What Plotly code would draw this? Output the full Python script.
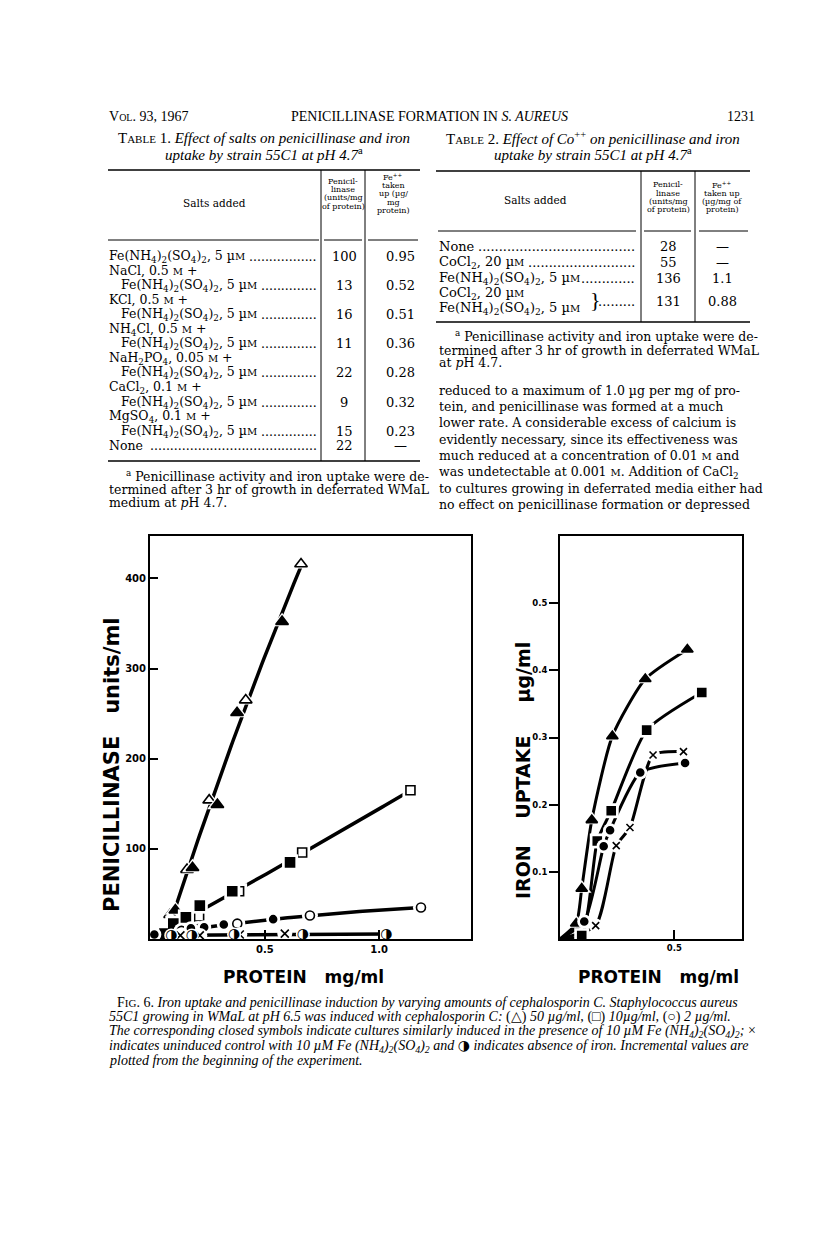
import numpy as np
import plotly.graph_objects as go

W, H = 816, 1247
SERIF = "DejaVu Serif"
TIMES = "Liberation Serif"
SANS = "DejaVu Sans"

# ---------------- Fig. 6, left panel: penicillinase (units/ml) vs protein (mg/ml)
tri_open_x = [0.085, 0.159, 0.256, 0.416, 0.658]
tri_open_y = [27, 77, 154, 265, 416]
tri_closed_x = [0.108, 0.183, 0.292, 0.378, 0.575]
tri_closed_y = [32, 79, 149, 251, 352]
sq_open_x = [0.135, 0.212, 0.387, 0.663, 1.137]
sq_open_y = [17, 25, 53, 96, 165]
sq_closed_x = [0.060, 0.099, 0.154, 0.215, 0.357, 0.610]
sq_closed_y = [6, 17, 24, 37, 53, 85]
ci_open_x = [0.135, 0.208, 0.379, 0.697, 1.183]
ci_open_y = [9, 11, 17, 26, 35]
ci_closed_x = [0.016, 0.176, 0.234, 0.320, 0.536]
ci_closed_y = [5, 12, 13, 16, 22]
ctrl_x = [0.130, 0.215, 0.390, 0.587]
ctrl_y = [4, 4, 5, 6]
nofe_x = [0.090, 0.180, 0.365, 0.666, 1.032]
nofe_y = [4, 4, 5, 5, 5]

# ---------------- Fig. 6, right panel: iron uptake (ug/ml) vs protein (mg/ml)
r_tri_x = [0.071, 0.095, 0.139, 0.229, 0.373, 0.557]
r_tri_y = [0.023, 0.075, 0.177, 0.302, 0.387, 0.431]
r_sq_x = [0.095, 0.163, 0.224, 0.379, 0.620]
r_sq_y = [0.005, 0.146, 0.191, 0.311, 0.367]
r_ci_x = [0.106, 0.191, 0.219, 0.351, 0.547]
r_ci_y = [0.026, 0.138, 0.162, 0.248, 0.262]
r_x_x = [0.156, 0.246, 0.306, 0.407, 0.540]
r_x_y = [0.020, 0.139, 0.166, 0.274, 0.279]

left_yticks = [100, 200, 300, 400]
left_xticks = [0.5, 1.0]
right_yticks = [0.1, 0.2, 0.3, 0.4, 0.5]
right_xticks = [0.5]

# ---------------- Table 1
SM = "<span style='font-size:10px'>M</span>"
FE = "Fe(NH<sub>4</sub>)<sub>2</sub>(SO<sub>4</sub>)<sub>2</sub>, 5 µ" + SM
t1_salt_first = ["", "NaCl, 0.5 " + SM + " +", "KCl, 0.5 " + SM + " +",
                 "NH<sub>4</sub>Cl, 0.5 " + SM + " +", "NaH<sub>2</sub>PO<sub>4</sub>, 0.05 " + SM + " +",
                 "CaCl<sub>2</sub>, 0.1 " + SM + " +", "MgSO<sub>4</sub>, 0.1 " + SM + " +", ""]
t1_salt_last = [FE, FE, FE, FE, FE, FE, FE, "None"]
t1_pen = [100, 13, 16, 11, 22, 9, 15, 22]
t1_fe = ["0.95", "0.52", "0.51", "0.36", "0.28", "0.32", "0.23", "—"]

# ---------------- Table 2
CO = "CoCl<sub>2</sub>, 20 µ" + SM
t2_salts = ["None", CO, FE]
t2_pen = [28, 55, 136]
t2_fe = ["—", "—", "1.1"]
t2_combo_pen = 131
t2_combo_fe = "0.88"

paragraph = [
    "reduced to a maximum of 1.0 µg per mg of pro-",
    "tein, and penicillinase was formed at a much",
    "lower rate. A considerable excess of calcium is",
    "evidently necessary, since its effectiveness was",
    "much reduced at a concentration of 0.01 " + SM + " and",
    "was undetectable at 0.001 " + SM + ". Addition of CaCl<sub>2</sub>",
    "to cultures growing in deferrated media either had",
    "no effect on penicillinase formation or depressed",
]

FEi = "Fe (NH<sub>4</sub>)<sub>2</sub>(SO<sub>4</sub>)<sub>2</sub>"
HALF = "<span style='font-family:DejaVu Sans'>◑</span>"
caption = [
    "F<span style='font-size:11px'>IG</span>. 6. <i>Iron uptake and penicillinase induction by varying amounts of cephalosporin C. Staphylococcus aureus</i>",
    "<i>55C1 growing in WMaL at pH 6.5 was induced with cephalosporin C: </i>(△) <i>50 µg/ml, </i>(□) <i>10µg/ml, </i>(○) <i>2 µg/ml.</i>",
    "<i>The corresponding closed symbols indicate cultures similarly induced in the presence of 10 µM " + FEi + "; </i>×",
    "<i>indicates uninduced control with 10 µM " + FEi + " and </i>" + HALF + "<i> indicates absence of iron. Incremental values are</i>",
    "<i>plotted from the beginning of the experiment.</i>",
]


def P(px, py):
    return px / W, 1 - py / H


annotations = []
shapes = []


def txt(px, py, s, size=13, family=SERIF, xa="left", angle=0):
    x, y = P(px, py)
    annotations.append(dict(x=x, y=y, xref="paper", yref="paper", text=s, showarrow=False,
                            xanchor=xa, yanchor="middle", textangle=angle, borderpad=0,
                            font=dict(family=family, size=size, color="black")))


def hline(x0, x1, y, w=1.0):
    a0, b0 = P(x0, y)
    a1, _ = P(x1, y)
    shapes.append(dict(type="line", xref="paper", yref="paper", x0=a0, x1=a1, y0=b0, y1=b0,
                       line=dict(color="black", width=w)))


def vline(x, y0, y1, w=1.0):
    a0, b0 = P(x, y0)
    _, b1 = P(x, y1)
    shapes.append(dict(type="line", xref="paper", yref="paper", x0=a0, x1=a0, y0=b0, y1=b1,
                       line=dict(color="black", width=w)))


fig = go.Figure()


def fit_line(xs_list, ys_list, deg, x0, n=80):
    xa = np.concatenate([np.asarray(v, float) for v in xs_list])
    ya = np.concatenate([np.asarray(v, float) for v in ys_list])
    c = np.polyfit(xa, ya, deg)
    xs = np.linspace(x0, xa.max(), n)
    return xs, np.clip(np.polyval(c, xs), 0, None)


def add_line(x, y, xa, ya, w, shape="linear", smooth=1.0):
    fig.add_trace(go.Scatter(x=x, y=y, xaxis=xa, yaxis=ya, mode="lines", cliponaxis=False,
                             line=dict(color="black", width=w, shape=shape, smoothing=smooth),
                             hoverinfo="skip"))


def add_marks(x, y, xa, ya, symbol, size, fill):
    # white halo gives the broken-line look around each symbol
    fig.add_trace(go.Scatter(x=x, y=y, xaxis=xa, yaxis=ya, mode="markers", cliponaxis=False,
                             marker=dict(symbol=symbol if "x" not in symbol else "circle",
                                         size=size + 7, color="white", line=dict(width=0)),
                             hoverinfo="skip"))
    if symbol.startswith("x"):
        m = dict(symbol="x-thin", size=size, line=dict(color="black", width=1.6))
    else:
        m = dict(symbol=symbol, size=size, color=fill, line=dict(color="black", width=1.6))
    fig.add_trace(go.Scatter(x=x, y=y, xaxis=xa, yaxis=ya, mode="markers", cliponaxis=False,
                             marker=m))


# ---- left panel lines
lx, ly = fit_line([tri_open_x, tri_closed_x], [tri_open_y, tri_closed_y], 2, 0.02)
add_line(lx, ly, "x", "y", 3.5)
lx, ly = fit_line([sq_open_x, sq_closed_x], [sq_open_y, sq_closed_y], 2, 0.03)
add_line(lx, ly, "x", "y", 3.5)
lx, ly = fit_line([ci_open_x, ci_closed_x], [ci_open_y, ci_closed_y], 2, 0.0)
add_line(lx, ly, "x", "y", 3.5)
lx, ly = fit_line([ctrl_x, nofe_x], [ctrl_y, nofe_y], 1, 0.12)
add_line(lx, ly, "x", "y", 3.5)

# ---- left panel markers
add_marks(tri_open_x, tri_open_y, "x", "y", "triangle-up", 11, "white")
add_marks(tri_closed_x, tri_closed_y, "x", "y", "triangle-up", 11, "black")
add_marks(sq_open_x, sq_open_y, "x", "y", "square", 9, "white")
add_marks(sq_closed_x, sq_closed_y, "x", "y", "square", 9, "black")
add_marks(ci_open_x, ci_open_y, "x", "y", "circle", 9, "white")
add_marks(ci_closed_x, ci_closed_y, "x", "y", "circle", 7, "black")
add_marks(ctrl_x, ctrl_y, "x", "y", "x", 8, "black")
fig.add_trace(go.Scatter(x=nofe_x, y=nofe_y, xaxis="x", yaxis="y", mode="markers",
                         marker=dict(symbol="circle", size=14, color="white"), cliponaxis=False,
                         hoverinfo="skip"))
fig.add_trace(go.Scatter(x=nofe_x, y=nofe_y, xaxis="x", yaxis="y", mode="text", text=["◑"] * len(nofe_x),
                         textposition="middle center", cliponaxis=False,
                         textfont=dict(family=SANS, size=14, color="black")))

# ---- right panel lines (from the origin)
for xs, ys in [(r_tri_x, r_tri_y), (r_sq_x, r_sq_y), (r_ci_x, r_ci_y), (r_x_x, r_x_y)]:
    add_line([0] + xs, [0] + ys, "x2", "y2", 3, shape="spline", smooth=0.6)
add_marks(r_tri_x, r_tri_y, "x2", "y2", "triangle-up", 10, "black")
add_marks(r_sq_x, r_sq_y, "x2", "y2", "square", 8, "black")
add_marks(r_ci_x, r_ci_y, "x2", "y2", "circle", 7, "black")
add_marks(r_x_x, r_x_y, "x2", "y2", "x", 7, "black")

# ---- axes
top, bot = 528, 931
ydom = [1 - bot / H, 1 - top / H]
ax_common = dict(showline=True, linewidth=2, linecolor="black", mirror=True, showgrid=False,
                 zeroline=False, tickcolor="black", tickwidth=2)
fig.update_layout(
    xaxis=dict(domain=[142 / W, 463 / W], range=[-0.003, 1.402], tickvals=left_xticks,
               ticktext=["0.5", "1.0"], ticks="inside", ticklen=9, anchor="y",
               tickfont=dict(family=SANS, size=10, color="black", weight="bold"), **ax_common),
    yaxis=dict(domain=ydom, range=[0, 447], tickvals=left_yticks, ticks="inside", ticklen=8,
               anchor="x", tickfont=dict(family=SANS, size=10, color="black", weight="bold"),
               **ax_common),
    xaxis2=dict(domain=[552 / W, 734 / W], range=[0, 0.796], tickvals=right_xticks,
                ticktext=["0.5"], ticks="inside", ticklen=9, anchor="y2",
                tickfont=dict(family=SANS, size=8.5, color="black", weight="bold"), **ax_common),
    yaxis2=dict(domain=ydom, range=[0, 0.600], tickvals=right_yticks,
                ticktext=["0.1", "0.2", "0.3", "0.4", "0.5"], ticks="outside", ticklen=9,
                anchor="x2", tickfont=dict(family=SANS, size=8.5, color="black", weight="bold"),
                **ax_common),
)

NB = "\u00a0"
txt(104, 757, "<b>PENICILLINASE" + NB * 3 + "units/ml</b>", size=21, family=SANS, xa="center", angle=-90)
txt(515, 763, "<b>IRON" + NB * 4 + "UPTAKE" + NB * 5 + "µg/ml</b>", size=19, family=SANS, xa="center", angle=-90)
txt(295, 969, "<b>PROTEIN" + NB * 3 + "mg/ml</b>", size=17, family=SANS, xa="center")
txt(650, 969, "<b>PROTEIN" + NB * 3 + "mg/ml</b>", size=17, family=SANS, xa="center")

# ---- running head
txt(100, 108, "V<span style='font-size:10px'>OL</span>. 93, 1967", size=14, family=TIMES)
txt(421, 108, "PENICILLINASE FORMATION IN <i>S. AUREUS</i>", size=14, family=TIMES, xa="center")
txt(748, 108, "1231", size=14, family=TIMES, xa="right")

# ---- Table 1
SC = "<span style='font-size:11px'>ABLE</span>"
txt(256, 130, "T" + SC + " 1. <i>Effect of salts on penicillinase and iron</i>", size=15, family=TIMES, xa="center")
txt(256, 146, "<i>uptake by strain 55C1 at pH 4.7</i><sup>a</sup>", size=15, family=TIMES, xa="center")
hline(100, 412, 162, 1.6)
vline(313, 162, 453)
vline(357, 162, 453)
txt(206, 195, "Salts added", size=10.5, xa="center")
for i, s in enumerate(["Penicil-", "linase", "(units/mg", "of protein)"]):
    txt(335, 173 + 8.4 * i, s, size=8, xa="center")
for i, s in enumerate(["Fe<sup>++</sup>", "taken", "up (µg/", "mg", "protein)"]):
    txt(385, 169 + 8.4 * i, s, size=8, xa="center")
hline(100, 311, 232)
hline(316, 354, 232)
hline(360, 410, 232)
line = 0
for first, last, pen, fe in zip(t1_salt_first, t1_salt_last, t1_pen, t1_fe):
    if first:
        txt(100, 248 + 14.6 * line, first, size=12.5)
        line += 1
        txt(112, 248 + 14.6 * line, last, size=12.5)
        ndots = 14
    else:
        txt(100, 248 + 14.6 * line, last, size=12.5)
        ndots = 17 if last != "None" else 42
    txt(310, 248 + 14.6 * line, "." * ndots, xa="right", size=12.5)
    txt(336, 248 + 14.6 * line, str(pen), xa="center")
    txt(392, 248 + 14.6 * line, fe, xa="center")
    line += 1
hline(100, 412, 453, 1.6)
txt(117, 468, "<sup>a</sup> Penicillinase activity and iron uptake were de-", size=12.5)
txt(100, 481, "termined after 3 hr of growth in deferrated WMaL", size=12.5)
txt(100, 494, "medium at <i>p</i>H 4.7.", size=12.5)

# ---- Table 2
txt(585, 130, "T" + SC + " 2. <i>Effect of Co</i><sup>++</sup><i> on penicillinase and iron</i>", size=15, family=TIMES, xa="center")
txt(585, 146, "<i>uptake by strain 55C1 at pH 4.7</i><sup>a</sup>", size=15, family=TIMES, xa="center")
hline(428, 742, 163, 1.6)
vline(633, 163, 314)
vline(687, 163, 314)
txt(527, 192, "Salts added", size=10.5, xa="center")
for i, s in enumerate(["Penicil-", "linase", "(units/mg", "of protein)"]):
    txt(660, 177 + 8.2 * i, s, size=8, xa="center")
for i, s in enumerate(["Fe<sup>++</sup>", "taken up", "(µg/mg of", "protein)"]):
    txt(714, 177 + 8.2 * i, s, size=8, xa="center")
hline(430, 628, 223)
hline(636, 683, 223)
hline(691, 740, 223)
for i, (s, pen, fe) in enumerate(zip(t2_salts, t2_pen, t2_fe)):
    yy = 238 + 16 * i
    txt(430, yy, s)
    txt(628, yy, "." * [38, 26, 13][i], xa="right")
    txt(660, yy, str(pen), xa="center")
    txt(714, yy, fe, xa="center")
txt(430, 285, CO)
txt(430, 300, FE)
txt(587, 292, "}", size=22, family=TIMES, xa="center")
txt(628, 293, "." * 9, xa="right")
txt(660, 293, str(t2_combo_pen), xa="center")
txt(714, 293, t2_combo_fe, xa="center")
hline(428, 742, 314, 1.6)
txt(446, 328, "<sup>a</sup> Penicillinase activity and iron uptake were de-", size=12.5)
txt(430, 342, "termined after 3 hr of growth in deferrated WMaL", size=12.5)
txt(430, 355, "at <i>p</i>H 4.7.", size=12.5)

for i, s in enumerate(paragraph):
    txt(430, 382 + 16.4 * i, s, size=12.5)

# ---- caption
for i, s in enumerate(caption):
    txt(108 if i == 0 else 100, 995 + 14.3 * i, s, size=14, family=TIMES)

fig.update_layout(width=W, height=H, margin=dict(l=0, r=0, t=0, b=0), paper_bgcolor="white",
                  plot_bgcolor="white", showlegend=False, annotations=annotations, shapes=shapes)
fig.write_html("out.html")
